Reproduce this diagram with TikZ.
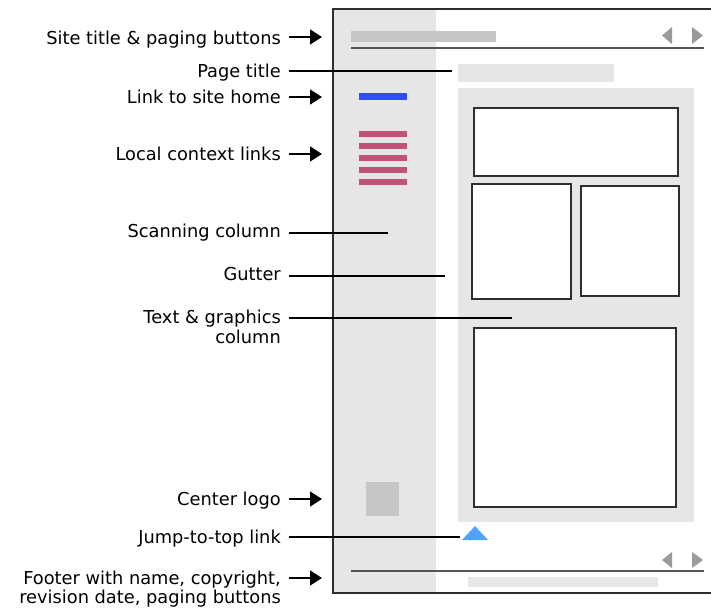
\documentclass[tikz,border=0pt]{standalone}
\usepackage{fontspec}
\setmainfont{DejaVu Sans}
\usetikzlibrary{arrows.meta}
\definecolor{panelgray}{HTML}{E6E6E6}
\definecolor{bargray}{HTML}{C6C6C6}
\definecolor{btngray}{HTML}{9A9A9A}
\definecolor{framegray}{HTML}{2E2E2E}
\definecolor{rulegray}{HTML}{555555}
\definecolor{homeblue}{HTML}{2F4CFF}
\definecolor{ctxred}{HTML}{BE5277}
\definecolor{topblue}{HTML}{4DA3FF}
\tikzset{
  lbl/.style={font=\fontsize{17.8}{19}\selectfont, text=black, anchor=base east, inner sep=0pt, align=right},
  ptr/.style={line width=1.4pt, shorten <=8pt, -{Triangle[length=12pt,width=15pt]}},
  lead/.style={line width=1.4pt, shorten <=8pt},
  blk/.style={anchor=north west, inner sep=0pt, outer sep=0pt, draw=none},
  pane/.style={anchor=north west, inner sep=0pt, outer sep=0pt, fill=white, draw=framegray, line width=1.6pt},
}
\newcommand{\blkat}[6]{\node[blk, fill=#2, minimum width=#5-#3, minimum height=#6-#4] (#1) at (#3,#4) {};}
\newcommand{\paneat}[5]{\node[pane, minimum width=#4-#2, minimum height=#5-#3] (#1) at (#2,#3) {};}
\begin{document}
\begin{tikzpicture}[x=1pt,y=-1pt]
\useasboundingbox (0,0) rectangle (711,608);

% page frame and scanning column
\fill[panelgray] (333,9) rectangle (436,593);
\draw[framegray, line width=1.5pt] (711,9) -- (333,9) -- (333,593) -- (711,593);

% header: site title bar, rule and paging buttons
\blkat{sitebar}{bargray}{351}{31}{496}{42}
\draw[rulegray, line width=1.2pt] (351,48) -- (704,48);
\fill[btngray] (672,27) -- (662,35.5) -- (672,44) -- cycle;
\fill[btngray] (692,27) -- (703,35.5) -- (692,44) -- cycle;

% page title bar
\blkat{ptitle}{panelgray}{458}{64}{614}{82}

% link to site home and local context links
\blkat{home}{homeblue}{359}{93}{407}{100}
\foreach \yy in {131,143,155,167,179}{
  \fill[ctxred] (359,\yy) rectangle (407,\yy+6);
}

% text and graphics column with its panes
\blkat{content}{panelgray}{458}{88}{694}{522}
\paneat{paneA}{474}{108}{678}{176}
\paneat{paneB}{472}{184}{571}{299}
\paneat{paneC}{581}{186}{679}{296}
\paneat{paneD}{474}{328}{676}{507}

% center logo
\blkat{logo}{bargray}{366}{482}{399}{516}

% jump-to-top link
\fill[topblue] (462,540) -- (475,526) -- (488,540) -- cycle;

% footer
\fill[btngray] (672,552) -- (662,560) -- (672,568) -- cycle;
\fill[btngray] (692,552) -- (703,560) -- (692,568) -- cycle;
\draw[rulegray, line width=1.2pt] (351,571) -- (704,571);
\blkat{footbar}{panelgray}{468}{577}{658}{587}

% connector targets
\coordinate (asite) at (322,37);
\coordinate (atitle) at (452,71);
\coordinate (ahome) at (322,97);
\coordinate (alocal) at (322,154);
\coordinate (ascan) at (388,233);
\coordinate (agutter) at (445,276);
\coordinate (atext) at (512,318);
\coordinate (alogo) at (322,499);
\coordinate (ajump) at (460,537);
\coordinate (afoot) at (322,578);

% labels (base anchor sits on the last line)
\node[lbl] (lsite) at (281,44) {Site title \& paging buttons};
\node[lbl] (ltitle) at (281,77) {Page title};
\node[lbl] (lhome) at (281,103) {Link to site home};
\node[lbl] (llocal) at (281,160) {Local context links};
\node[lbl] (lscan) at (281,237) {Scanning  column};
\node[lbl] (lgutter) at (281,280) {Gutter};
\node[lbl] (ltext) at (281,343) {Text  \& graphics\\[1pt]column};
\node[lbl] (llogo) at (281,505) {Center logo};
\node[lbl] (ljump) at (281,543) {Jump-to-top link};
\node[lbl] (lfoot) at (281,603) {Footer with name, copyright,\\revision date, paging buttons};

% connectors
\draw[ptr] (lsite.east |- asite) -- (asite);
\draw[lead] (ltitle.east |- atitle) -- (atitle);
\draw[ptr] (lhome.east |- ahome) -- (ahome);
\draw[ptr] (llocal.east |- alocal) -- (alocal);
\draw[lead] (lscan.east |- ascan) -- (ascan);
\draw[lead] (lgutter.east |- agutter) -- (agutter);
\draw[lead] (ltext.east |- atext) -- (atext);
\draw[ptr] (llogo.east |- alogo) -- (alogo);
\draw[lead] (ljump.east |- ajump) -- (ajump);
\draw[ptr] (lfoot.east |- afoot) -- (afoot);
\end{tikzpicture}
\end{document}
